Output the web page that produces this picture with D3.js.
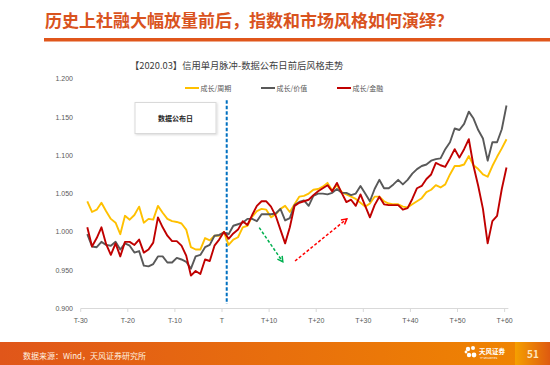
<!DOCTYPE html>
<html><head><meta charset="utf-8">
<script src="https://cdn.jsdelivr.net/npm/d3@7"></script>
<style>
html,body{margin:0;padding:0;background:#fff;}
svg{display:block;font-family:"Noto Sans CJK SC","Noto Sans",sans-serif;}
</style></head>
<body>
<svg id="c" width="550" height="365"></svg>
<script>
// ---- data ----
const days = d3.range(-29, 61); // T-29 .. T+60
const seriesNames = ["成长/周期", "成长/价值", "成长/金融"];
const growthCycle = [1.040,1.026,1.029,1.038,1.027,1.017,1.012,0.997,1.021,1.016,
  1.022,1.033,1.012,1.017,1.016,1.034,1.025,1.017,1.014,1.013,
  1.011,1.003,0.980,0.977,0.977,0.992,0.989,0.995,0.995,1.000,
  0.983,0.990,0.993,1.006,1.008,1.020,1.027,1.030,1.029,1.019,
  1.023,1.030,1.034,1.026,1.036,1.046,1.047,1.050,1.055,1.056,
  1.059,1.064,1.054,1.061,1.052,1.049,1.046,1.043,1.038,1.033,
  1.037,1.046,1.046,1.040,1.037,1.036,1.036,1.033,1.032,1.036,
  1.040,1.044,1.052,1.055,1.061,1.058,1.062,1.075,1.086,1.086,
  1.088,1.099,1.087,1.082,1.075,1.072,1.086,1.098,1.109,1.121];
const growthValue = [0.997,0.981,0.980,0.987,0.983,0.982,0.987,0.977,0.985,0.982,
  0.973,0.975,0.956,0.955,0.958,0.968,0.968,0.960,0.960,0.966,
  0.964,0.961,0.952,0.968,0.970,0.980,0.983,0.995,0.996,0.999,
  0.997,1.008,1.010,1.012,1.017,1.017,1.014,1.023,1.023,1.023,
  1.024,1.030,1.015,1.018,1.035,1.039,1.041,1.034,1.047,1.050,
  1.050,1.049,1.051,1.056,1.051,1.051,1.048,1.050,1.060,1.050,
  1.040,1.056,1.068,1.057,1.057,1.062,1.068,1.062,1.068,1.076,
  1.082,1.086,1.088,1.093,1.095,1.096,1.108,1.117,1.135,1.133,
  1.141,1.157,1.148,1.133,1.122,1.093,1.117,1.117,1.134,1.165];
const growthFinance = [1.006,0.981,0.992,1.006,0.984,0.970,0.985,0.968,0.987,0.987,
  0.983,0.990,0.973,0.977,0.986,1.019,1.006,0.995,0.988,0.988,
  0.982,0.969,0.943,0.949,0.945,0.964,0.962,0.982,0.990,1.000,
  0.991,0.998,1.003,1.014,1.009,1.022,1.034,1.040,1.040,1.033,
  1.021,1.003,0.985,1.006,1.034,1.038,1.040,1.042,1.048,1.053,
  1.057,1.061,1.053,1.064,1.051,1.039,1.042,1.034,1.049,1.034,
  1.019,1.035,1.046,1.036,1.035,1.035,1.035,1.029,1.031,1.043,
  1.057,1.060,1.069,1.075,1.090,1.087,1.085,1.096,1.108,1.097,
  1.108,1.121,1.086,1.060,1.030,0.985,1.014,1.021,1.056,1.084];
const yTicks = [0.900, 0.950, 1.000, 1.050, 1.100, 1.150, 1.200];
const xTicks = [-30, -20, -10, 0, 10, 20, 30, 40, 50, 60];
const xTickLabels = ["T-30","T-20","T-10","T","T+10","T+20","T+30","T+40","T+50","T+60"];
const colors = ["#FFC000", "#595959", "#C00000"];

// ---- layout ----
const svg = d3.select("#c");
const x = d3.scaleLinear().domain([-29, 60]).range([87.3, 506.5]);
const tickShift = -0.4; // category labels sit slightly left of the points
const y = d3.scaleLinear().domain([0.9, 1.2]).range([308.5, 78.7]);

// header
svg.append("text").attr("x", 45).attr("y", 27)
  .attr("font-size", 17).attr("font-weight", 700).attr("fill", "#D9531E")
  .text("历史上社融大幅放量前后，指数和市场风格如何演绎？");
svg.append("rect").attr("x", 44).attr("y", 38).attr("width", 506).attr("height", 3.5).attr("fill", "#E0561B");

// chart title
svg.append("text").attr("x", 130).attr("y", 68.5).attr("font-size", 9.3).attr("fill", "#404040")
  .text("【2020.03】信用单月脉冲-数据公布日前后风格走势");

// y axis labels
svg.append("g").selectAll("text").data(yTicks).join("text")
  .attr("x", 73).attr("y", d => y(d) + 2.5).attr("text-anchor", "end")
  .attr("font-size", 7).attr("fill", "#595959")
  .attr("font-family", "Liberation Sans, Arial, sans-serif")
  .text(d => d3.format(".3f")(d));

// x axis
const xa = svg.append("g");
xa.append("line").attr("x1", x(-30 + tickShift)).attr("x2", x(60.4)).attr("y1", 308.5).attr("y2", 308.5)
  .attr("stroke", "#D9D9D9").attr("stroke-width", 1);
xa.selectAll("line.t").data(xTicks).join("line").attr("class", "t")
  .attr("x1", d => x(d + tickShift)).attr("x2", d => x(d + tickShift))
  .attr("y1", 308.5).attr("y2", 312).attr("stroke", "#D9D9D9");
xa.selectAll("text").data(xTicks).join("text")
  .attr("x", d => x(d + tickShift)).attr("y", 322.5).attr("text-anchor", "middle")
  .attr("font-size", 7).attr("fill", "#595959")
  .attr("font-family", "Liberation Sans, Arial, sans-serif")
  .text((d, i) => xTickLabels[i]);

// "数据公布日" box
const defs = svg.append("defs");
const f = defs.append("filter").attr("id", "sh").attr("x", "-10%").attr("y", "-10%").attr("width", "130%").attr("height", "140%");
f.append("feDropShadow").attr("dx", 1).attr("dy", 1).attr("stdDeviation", 1).attr("flood-color", "#000").attr("flood-opacity", 0.15);
svg.append("rect").attr("x", 135).attr("y", 102.5).attr("width", 81).attr("height", 31)
  .attr("fill", "#fff").attr("stroke", "#D9D9D9").attr("stroke-width", 1).attr("filter", "url(#sh)");
svg.append("text").attr("x", 175.5).attr("y", 120.5).attr("text-anchor", "middle")
  .attr("font-size", 7).attr("font-weight", 700).attr("fill", "#262626").text("数据公布日");

// vertical dashed release-day line
svg.append("line").attr("x1", x(0.6)).attr("x2", x(0.6)).attr("y1", y(1.172)).attr("y2", y(0.906))
  .attr("stroke", "#0070C0").attr("stroke-width", 2).attr("stroke-dasharray", "3.5,2");

// series lines
const seriesData = [growthCycle, growthValue, growthFinance];
const line = d3.line().x((d, i) => x(days[i])).y(d => y(d));
svg.append("g").selectAll("path").data(seriesData).join("path")
  .attr("d", line).attr("fill", "none")
  .attr("stroke", (d, i) => colors[i]).attr("stroke-width", 1.9).attr("stroke-linejoin", "round");

// annotation arrows (in data coordinates)
function arrow(d0, v0, d1, v1, col) {
  const x0 = x(d0), y0 = y(v0), x1 = x(d1), y1 = y(v1);
  svg.append("line").attr("x1", x0).attr("y1", y0).attr("x2", x1).attr("y2", y1)
    .attr("stroke", col).attr("stroke-width", 1.5).attr("stroke-dasharray", "3,2");
  const a = Math.atan2(y1 - y0, x1 - x0), L = 6, w = 0.5;
  const p = [[x1 - L * Math.cos(a - w), y1 - L * Math.sin(a - w)], [x1, y1], [x1 - L * Math.cos(a + w), y1 - L * Math.sin(a + w)]];
  svg.append("path").attr("d", d3.line()(p)).attr("fill", "none").attr("stroke", col).attr("stroke-width", 1.5);
}
arrow(7.5, 1.0055, 12.5, 0.961, "#00B050");
arrow(15.1, 0.962, 26.1, 1.017, "#FF0000");

// legend
const lg = svg.append("g");
const lgX = [185, 261, 337];
seriesNames.forEach((n, i) => {
  lg.append("line").attr("x1", lgX[i]).attr("x2", lgX[i] + 14).attr("y1", 88).attr("y2", 88)
    .attr("stroke", colors[i]).attr("stroke-width", 2);
  lg.append("text").attr("x", lgX[i] + 15.5).attr("y", 90.5).attr("font-size", 7).attr("fill", "#595959").text(n);
});

// footer
const g1 = defs.append("linearGradient").attr("id", "fg");
g1.append("stop").attr("offset", "0%").attr("stop-color", "#E0561A");
g1.append("stop").attr("offset", "100%").attr("stop-color", "#F08700");
svg.append("rect").attr("x", 0).attr("y", 342).attr("width", 550).attr("height", 23).attr("fill", "url(#fg)");
const g2 = defs.append("linearGradient").attr("id", "pg");
g2.append("stop").attr("offset", "0%").attr("stop-color", "#F5A000");
g2.append("stop").attr("offset", "100%").attr("stop-color", "#DE5A10");
svg.append("rect").attr("x", 515).attr("y", 342).attr("width", 35).attr("height", 23).attr("fill", "url(#pg)");
svg.append("text").attr("x", 527).attr("y", 358).attr("font-size", 10).attr("font-weight", 700)
  .attr("fill", "#FDE6BE").text("51");
svg.append("text").attr("x", 23).attr("y", 359).attr("font-size", 8).attr("fill", "#FFF1E0")
  .text("数据来源：Wind，天风证券研究所");
// logo
const lgo = svg.append("g").attr("fill", "#fff");
[[468,349,2.2],[473,348,2],[469,355,2.2],[474,355,2.4],[466,352,1.4]].forEach(c =>
  lgo.append("circle").attr("cx", c[0]).attr("cy", c[1]).attr("r", c[2]));
lgo.append("text").attr("x", 479).attr("y", 354).attr("font-size", 6.5).attr("font-weight", 700).text("天风证券");
lgo.append("text").attr("x", 480).attr("y", 359).attr("font-size", 2.5).text("TF SECURITIES");
</script>
</body></html>
